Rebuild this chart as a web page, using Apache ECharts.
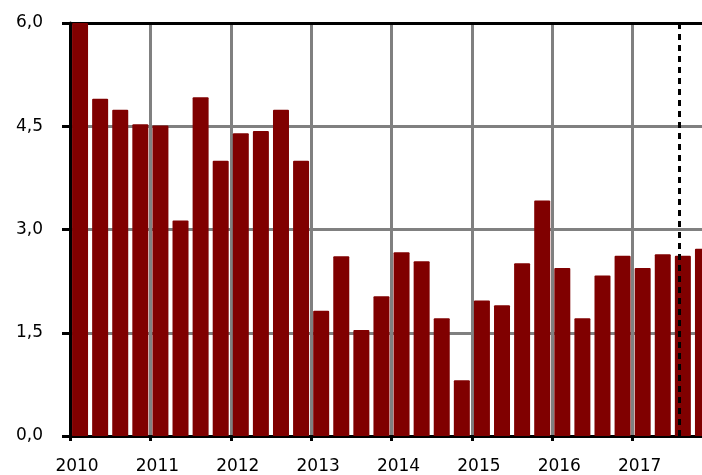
<!DOCTYPE html>
<html>
<head>
<meta charset="utf-8">
<script src="https://cdn.jsdelivr.net/npm/echarts@6/dist/echarts.min.js"></script>
<style>html,body{margin:0;padding:0;background:#fff;overflow:hidden;width:702px;height:475px}#c{width:714px;height:475px}</style>
</head>
<body>
<div id="c"></div>
<script>
var categories = [
  '2010 Q1','2010 Q2','2010 Q3','2010 Q4',
  '2011 Q1','2011 Q2','2011 Q3','2011 Q4',
  '2012 Q1','2012 Q2','2012 Q3','2012 Q4',
  '2013 Q1','2013 Q2','2013 Q3','2013 Q4',
  '2014 Q1','2014 Q2','2014 Q3','2014 Q4',
  '2015 Q1','2015 Q2','2015 Q3','2015 Q4',
  '2016 Q1','2016 Q2','2016 Q3','2016 Q4',
  '2017 Q1','2017 Q2','2017 Q3','2017 Q4'
];
var values = [
  6.0, 4.90, 4.74, 4.53,
  4.51, 3.13, 4.92, 4.00,
  4.40, 4.43, 4.74, 4.00,
  1.82, 2.61, 1.54, 2.03,
  2.67, 2.54, 1.71, 0.81,
  1.97, 1.90, 2.51, 3.42,
  2.44, 1.71, 2.33, 2.62,
  2.44, 2.64, 2.62, 2.72
];
var yTicks = [0, 1.5, 3.0, 4.5, 6.0];
var dashedLineAt = 30.3; // position in quarter units from start

var chart = echarts.init(document.getElementById('c'), null, {renderer: 'canvas'});
var font = 'DejaVu Sans, sans-serif';
chart.setOption({
  animation: false,
  grid: {left: 70, top: 23, width: 643, height: 414.5, containLabel: false},
  xAxis: [{
    type: 'category',
    data: categories,
    boundaryGap: true,
    axisLine: {show: true, lineStyle: {color: '#000', width: 3}},
    axisTick: {show: true, interval: 3, length: 5, lineStyle: {color: '#000', width: 3}},
    axisLabel: {
      interval: 3, margin: 22, color: '#000', fontFamily: font, fontSize: 17,
      padding: [0, 6, 0, 0],
      formatter: function (v) { return v.split(' ')[0]; }
    },
    splitLine: {show: true, interval: 3, lineStyle: {color: '#808080', width: 3}}
  }, {
    type: 'value',
    position: 'top',
    min: 0, max: categories.length,
    axisLine: {show: true, onZero: false, lineStyle: {color: '#000', width: 3}},
    axisTick: {show: false}, axisLabel: {show: false}, splitLine: {show: false}
  }],
  yAxis: {
    type: 'value',
    min: yTicks[0], max: yTicks[yTicks.length - 1], interval: 1.5,
    axisLine: {show: true, lineStyle: {color: '#000', width: 3}},
    axisTick: {show: true, length: 8, lineStyle: {color: '#000', width: 3}},
    axisLabel: {
      margin: 27, color: '#000', fontFamily: font, fontSize: 17,
      formatter: function (v) { return v.toFixed(1).replace('.', ','); }
    },
    splitLine: {show: true, lineStyle: {color: '#808080', width: 3}}
  },
  series: [{
    type: 'bar',
    data: values,
    barWidth: 16,
    itemStyle: {color: '#800000', borderRadius: [1, 1, 0, 0]},
    z: 3
  }, {
    type: 'line',
    xAxisIndex: 1,
    data: [],
    markLine: {
      silent: true, symbol: 'none', label: {show: false},
      lineStyle: {color: '#000', width: 3, type: [6, 5]},
      data: [{xAxis: dashedLineAt}]
    },
    z: 4
  }]
});
</script>
</body>
</html>
